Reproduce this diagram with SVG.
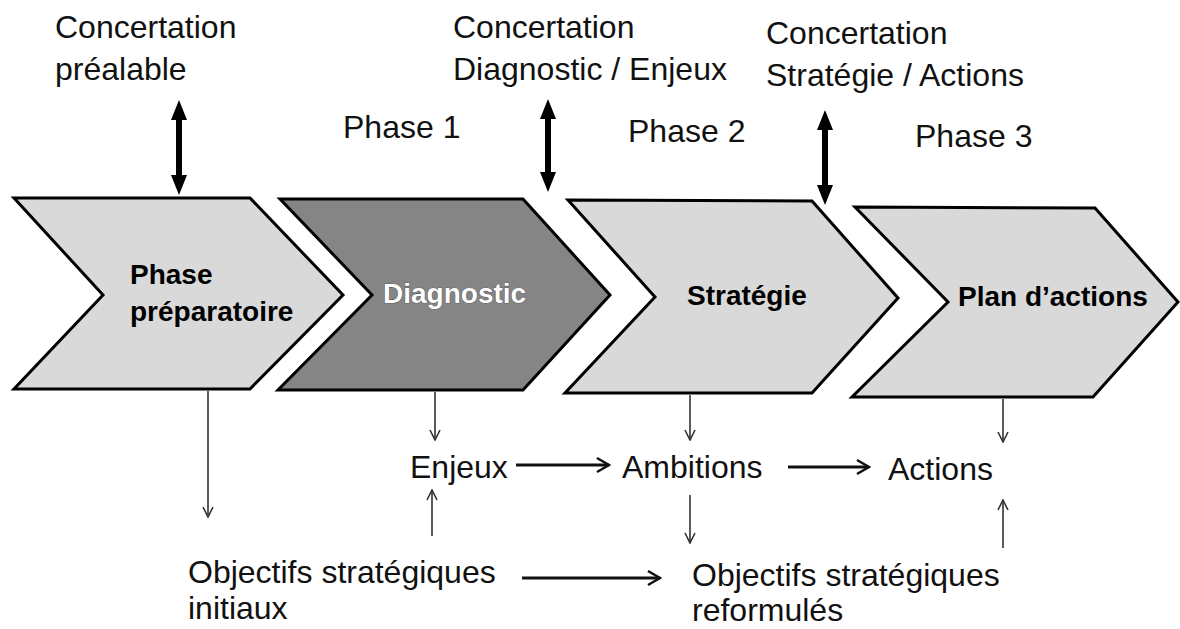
<svg xmlns="http://www.w3.org/2000/svg" width="1180" height="629" viewBox="0 0 1180 629">
<defs>
<style>
.lbl{font-family:"Liberation Sans",Arial,sans-serif;font-size:32px;fill:#111}
.bold{font-family:"Liberation Sans",Arial,sans-serif;font-size:28px;font-weight:bold;fill:#000}
.white{fill:#fff;stroke:#444;stroke-width:0.7;paint-order:stroke}
.chev{stroke:#000;stroke-width:3;stroke-linejoin:miter}
.light{fill:#d9d9d9}
.dark{fill:#858585}
.dbl{stroke:#000;stroke-width:6;fill:none}
.thin{stroke:#333;stroke-width:1.6;fill:none}
.thick{stroke:#111;stroke-width:3.2;fill:none}
</style>
<marker id="tri" viewBox="0 0 20 16" refX="2" refY="8" markerWidth="20" markerHeight="16" markerUnits="userSpaceOnUse" orient="auto-start-reverse">
<path d="M0,0 L20,8 L0,16 Z" fill="#000"/>
</marker>
<marker id="vsmall" viewBox="0 0 12 12" refX="11" refY="6" markerWidth="12" markerHeight="12" markerUnits="userSpaceOnUse" orient="auto">
<path d="M1,1 L11,6 L1,11" fill="none" stroke="#333" stroke-width="1.6"/>
</marker>
<marker id="vbig" viewBox="0 0 16 18" refX="14" refY="9" markerWidth="16" markerHeight="18" markerUnits="userSpaceOnUse" orient="auto">
<path d="M2,2 L14,9 L2,16" fill="none" stroke="#111" stroke-width="2.6"/>
</marker>
</defs>
<rect width="1180" height="629" fill="#fff"/>

<g id="chevron-preparatoire">
<polygon class="chev light" points="14,198 250,198 343,295 250,389 14,389 103,295"/>
<text class="bold" x="130" y="284">Phase</text>
<text class="bold" x="130" y="321">préparatoire</text>
</g>
<g id="chevron-diagnostic">
<polygon class="chev dark" points="280,199 523,199 610,295 523,390 278,390 372,295"/>
<text class="bold white" x="383" y="303">Diagnostic</text>
</g>
<g id="chevron-strategie">
<polygon class="chev light" points="568,200 812,201 898,298 812,393 565,393 655,297"/>
<text class="bold" x="687" y="305">Stratégie</text>
</g>
<g id="chevron-plan">
<polygon class="chev light" points="855,207 1095,208 1178,302 1093,397 852,397 948,302"/>
<text class="bold" x="958" y="306">Plan d’actions</text>
</g>

<g id="concertation-prealable">
<text class="lbl" x="55" y="38">Concertation</text>
<text class="lbl" x="55" y="80">préalable</text>
</g>
<g id="concertation-diagnostic">
<text class="lbl" x="453" y="38">Concertation</text>
<text class="lbl" x="453" y="80">Diagnostic / Enjeux</text>
</g>
<g id="concertation-strategie">
<text class="lbl" x="766" y="44">Concertation</text>
<text class="lbl" x="766" y="86">Stratégie / Actions</text>
</g>
<g id="phase1"><text class="lbl" x="343" y="138">Phase 1</text></g>
<g id="phase2"><text class="lbl" x="628" y="142">Phase 2</text></g>
<g id="phase3"><text class="lbl" x="915" y="147">Phase 3</text></g>

<g id="enjeux"><text class="lbl" x="410" y="478">Enjeux</text></g>
<g id="ambitions"><text class="lbl" x="622" y="478">Ambitions</text></g>
<g id="actions"><text class="lbl" x="888" y="480">Actions</text></g>
<g id="objectifs-initiaux">
<text class="lbl" x="188" y="583">Objectifs stratégiques</text>
<text class="lbl" x="188" y="619">initiaux</text>
</g>
<g id="objectifs-reformules">
<text class="lbl" x="692" y="586">Objectifs stratégiques</text>
<text class="lbl" x="692" y="621">reformulés</text>
</g>

<g id="connectors">
<line class="dbl" x1="179" y1="118" x2="179" y2="177" marker-start="url(#tri)" marker-end="url(#tri)"/>
<line class="dbl" x1="548" y1="117" x2="548" y2="174" marker-start="url(#tri)" marker-end="url(#tri)"/>
<line class="dbl" x1="825" y1="128" x2="825" y2="187" marker-start="url(#tri)" marker-end="url(#tri)"/>

<line class="thin" x1="208" y1="391" x2="208" y2="517" marker-end="url(#vsmall)"/>
<line class="thin" x1="435" y1="392" x2="435" y2="440" marker-end="url(#vsmall)"/>
<line class="thin" x1="690" y1="395" x2="690" y2="440" marker-end="url(#vsmall)"/>
<line class="thin" x1="1003" y1="399" x2="1003" y2="442" marker-end="url(#vsmall)"/>

<line class="thin" x1="432" y1="536" x2="432" y2="490" marker-end="url(#vsmall)"/>
<line class="thin" x1="690" y1="495" x2="690" y2="543" marker-end="url(#vsmall)"/>
<line class="thin" x1="1003" y1="548" x2="1003" y2="500" marker-end="url(#vsmall)"/>

<line class="thick" x1="516" y1="465" x2="609" y2="465" marker-end="url(#vbig)"/>
<line class="thick" x1="788" y1="467" x2="869" y2="467" marker-end="url(#vbig)"/>
<line class="thick" x1="522" y1="578" x2="660" y2="578" marker-end="url(#vbig)"/>
</g>
</svg>
